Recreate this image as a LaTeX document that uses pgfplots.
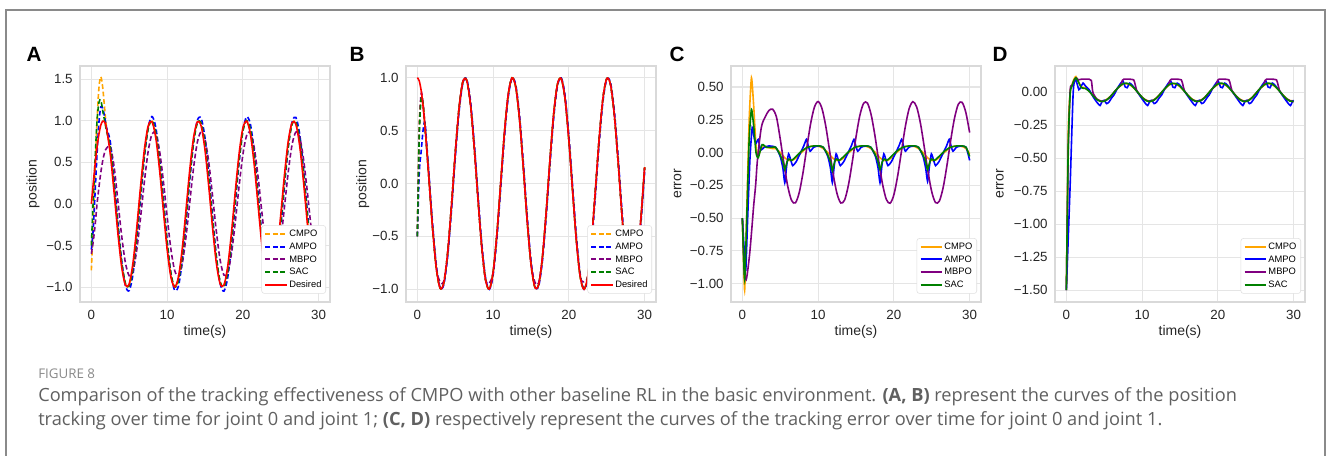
\documentclass[border=0pt]{standalone}
\usepackage{fontspec}
\setmainfont{Liberation Sans}
\newfontfamily\capfont{Open Sans}
\usepackage{pgfplots}
\usepackage{pgfplotstable}
\pgfplotsset{compat=1.18}
\definecolor{cOr}{HTML}{FFA500}
\definecolor{cBl}{HTML}{0000FF}
\definecolor{cPu}{HTML}{800080}
\definecolor{cGr}{HTML}{008000}
\definecolor{cRd}{HTML}{FF0000}
\definecolor{capgray}{HTML}{606060}
\definecolor{figgray}{HTML}{8A8A8A}

\pgfplotstableread{
t cmpo ampo mbpo sac des
0 -0.80 -0.55 -0.60 -0.50 0.000
0.25 -0.20 -0.30 -0.45 0.05 0.247
0.5 0.40 0.15 -0.25 0.55 0.479
0.75 1.00 0.60 0.00 1.00 0.682
1.0 1.40 0.98 0.20 1.22 0.841
1.25 1.53 1.17 0.38 1.25 0.949
1.5 1.40 1.15 0.52 1.12 0.997
1.75 1.15 1.05 0.62 1.00 0.984
2.0 0.92 0.92 0.67 0.88 0.909
2.5 0.638 0.747 0.690 0.678 0.598
3.0 0.191 0.301 0.449 0.240 0.141
3.5 -0.304 -0.219 0.036 -0.257 -0.351
4.0 -0.724 -0.685 -0.384 -0.692 -0.757
4.5 -0.967 -0.984 -0.711 -0.957 -0.978
5.0 -0.973 -1.042 -0.864 -0.987 -0.959
5.5 -0.741 -0.844 -0.806 -0.777 -0.706
6.0 -0.327 -0.440 -0.548 -0.375 -0.279
6.5 0.166 0.071 -0.159 0.117 0.215
7.0 0.619 0.566 0.270 0.582 0.657
7.5 0.921 0.921 0.633 0.903 0.938
8.0 0.996 1.051 0.841 1.004 0.989
8.5 0.828 0.924 0.843 0.858 0.798
9.0 0.458 0.571 0.639 0.503 0.412
9.5 -0.025 0.078 0.278 0.025 -0.075
10.0 -0.502 -0.435 -0.152 -0.460 -0.544
10.5 -0.856 -0.841 -0.544 -0.832 -0.880
11.0 -1.000 -1.041 -0.802 -1.000 -1.000
11.5 -0.899 -0.986 -0.865 -0.923 -0.875
12.0 -0.579 -0.690 -0.716 -0.621 -0.537
12.5 -0.116 -0.225 -0.391 -0.166 -0.066
13.0 0.375 0.295 0.029 0.329 0.420
13.5 0.773 0.742 0.441 0.743 0.803
14.0 0.984 1.009 0.748 0.977 0.991
14.5 0.953 1.028 0.869 0.971 0.935
15.0 0.688 0.795 0.779 0.726 0.650
15.5 0.256 0.368 0.498 0.305 0.207
16.0 -0.240 -0.150 0.094 -0.192 -0.288
16.5 -0.677 -0.631 -0.332 -0.642 -0.712
17.0 -0.947 -0.957 -0.677 -0.933 -0.961
17.5 -0.987 -1.049 -0.856 -0.998 -0.976
18.0 -0.784 -0.884 -0.826 -0.817 -0.751
18.5 -0.389 -0.502 -0.593 -0.436 -0.342
19.0 0.101 0.002 -0.215 0.051 0.150
19.5 0.564 0.503 0.214 0.524 0.604
20.0 0.893 0.886 0.593 0.872 0.913
20.5 1.000 1.048 0.825 1.004 0.996
21.0 0.864 0.956 0.856 0.892 0.837
21.5 0.515 0.627 0.676 0.559 0.471
22.0 0.041 0.147 0.332 0.091 -0.009
22.5 -0.443 -0.370 -0.094 -0.400 -0.487
23.0 -0.819 -0.797 -0.497 -0.793 -0.846
23.5 -0.995 -1.029 -0.778 -0.992 -0.998
24.0 -0.927 -1.009 -0.870 -0.948 -0.906
24.5 -0.632 -0.742 -0.747 -0.673 -0.592
25.0 -0.182 -0.292 -0.442 -0.231 -0.132
25.5 0.312 0.228 -0.028 0.266 0.359
26.0 0.731 0.693 0.392 0.698 0.763
26.5 0.970 0.988 0.716 0.960 0.980
27.0 0.971 1.040 0.865 0.985 0.956
27.5 0.735 0.838 0.802 0.771 0.699
28.0 0.319 0.432 0.543 0.367 0.271
28.5 -0.174 -0.080 0.152 -0.125 -0.223
29.0 -0.627 -0.574 -0.278 -0.589 -0.664
29.5 -0.924 -0.926 -0.639 -0.907 -0.941
30.0 -0.996 -1.051 -0.843 -1.003 -0.988
}\tabA

\pgfplotstableread{
t cmpo ampo mbpo sac des
0 -0.50 -0.50 -0.50 -0.50 1.000
0.25 0.55 0.10 0.50 0.45 0.969
0.5 0.80 0.30 0.85 0.80 0.878
0.75 0.75 0.50 0.76 0.75 0.732
1.0 0.545 0.58 0.55 0.54 0.540
1.25 0.32 0.36 0.32 0.315 0.315
1.5 0.08 0.12 0.08 0.071 0.071
1.75 -0.17 -0.13 -0.17 -0.178 -0.178
2.0 -0.41 -0.37 -0.41 -0.416 -0.416
2.5 -0.801 -0.771 -0.800 -0.801 -0.801
3.0 -0.990 -0.983 -0.930 -0.990 -0.990
3.5 -0.936 -0.954 -0.920 -0.936 -0.936
4.0 -0.654 -0.692 -0.654 -0.654 -0.654
4.5 -0.211 -0.260 -0.211 -0.211 -0.211
5.0 0.284 0.236 0.284 0.284 0.284
5.5 0.709 0.674 0.709 0.709 0.709
6.0 0.960 0.946 0.960 0.960 0.960
6.5 0.977 0.988 0.977 0.977 0.977
7.0 0.754 0.787 0.754 0.754 0.754
7.5 0.347 0.394 0.347 0.347 0.347
8.0 -0.146 -0.097 -0.146 -0.146 -0.146
8.5 -0.602 -0.562 -0.602 -0.602 -0.602
9.0 -0.911 -0.890 -0.911 -0.911 -0.911
9.5 -0.997 -1.001 -0.940 -0.997 -0.997
10.0 -0.839 -0.866 -0.839 -0.839 -0.839
10.5 -0.476 -0.520 -0.476 -0.476 -0.476
11.0 0.004 -0.046 0.004 0.004 0.004
11.5 0.484 0.440 0.484 0.484 0.484
12.0 0.844 0.817 0.844 0.844 0.844
12.5 0.998 0.995 0.998 0.998 0.998
13.0 0.907 0.928 0.907 0.907 0.907
13.5 0.595 0.635 0.595 0.595 0.595
14.0 0.137 0.187 0.137 0.137 0.137
14.5 -0.355 -0.308 -0.355 -0.355 -0.355
15.0 -0.760 -0.727 -0.760 -0.760 -0.760
15.5 -0.978 -0.968 -0.930 -0.978 -0.978
16.0 -0.958 -0.972 -0.940 -0.958 -0.958
16.5 -0.703 -0.739 -0.703 -0.703 -0.703
17.0 -0.275 -0.323 -0.275 -0.275 -0.275
17.5 0.219 0.170 0.219 0.219 0.219
18.0 0.660 0.622 0.660 0.660 0.660
18.5 0.940 0.923 0.940 0.940 0.940
19.0 0.989 0.997 0.989 0.989 0.989
19.5 0.797 0.827 0.797 0.797 0.797
20.0 0.408 0.454 0.408 0.408 0.408
20.5 -0.079 -0.029 -0.079 -0.079 -0.079
21.0 -0.548 -0.506 -0.548 -0.548 -0.548
21.5 -0.882 -0.858 -0.882 -0.882 -0.882
22.0 -1.000 -1.000 -0.930 -1.000 -1.000
22.5 -0.874 -0.898 -0.874 -0.874 -0.874
23.0 -0.533 -0.575 -0.533 -0.533 -0.533
23.5 -0.062 -0.112 -0.062 -0.062 -0.062
24.0 0.424 0.379 0.424 0.424 0.424
24.5 0.806 0.776 0.806 0.806 0.806
25.0 0.991 0.984 0.991 0.991 0.991
25.5 0.933 0.951 0.933 0.933 0.933
26.0 0.647 0.685 0.647 0.647 0.647
26.5 0.203 0.252 0.203 0.203 0.203
27.0 -0.292 -0.244 -0.292 -0.292 -0.292
27.5 -0.715 -0.680 -0.715 -0.715 -0.715
28.0 -0.962 -0.948 -0.962 -0.962 -0.962
28.5 -0.975 -0.986 -0.930 -0.975 -0.975
29.0 -0.748 -0.781 -0.748 -0.748 -0.748
29.5 -0.338 -0.385 -0.338 -0.338 -0.338
30.0 0.154 0.105 0.154 0.154 0.154
}\tabB

\pgfplotstableread{
t cmpo sac
0 -1.50 -1.50
0.25 -0.30 -0.40
0.5 0.00 -0.01
0.75 0.06 0.05
1.0 0.10 0.09
1.25 0.12 0.11
1.5 0.09 0.09
2.0 0.04 0.035
2.5 0.035 0.03
3.0 0.010 0.008
3.5 -0.023 -0.025
4.0 -0.050 -0.053
4.5 -0.064 -0.068
5.0 -0.063 -0.067
5.5 -0.046 -0.049
6.0 -0.019 -0.020
6.5 0.014 0.015
7.0 0.043 0.046
7.5 0.062 0.066
8.0 0.065 0.069
8.5 0.053 0.056
9.0 0.027 0.029
9.5 -0.005 -0.005
10.0 -0.036 -0.038
10.5 -0.058 -0.062
11.0 -0.066 -0.070
11.5 -0.057 -0.061
12.0 -0.036 -0.038
12.5 -0.005 -0.005
13.0 0.027 0.029
13.5 0.053 0.056
14.0 0.065 0.069
14.5 0.061 0.065
15.0 0.043 0.046
15.5 0.013 0.014
16.0 -0.019 -0.020
16.5 -0.047 -0.050
17.0 -0.063 -0.067
17.5 -0.064 -0.068
18.0 -0.050 -0.053
18.5 -0.023 -0.024
19.0 0.010 0.011
19.5 0.039 0.042
20.0 0.060 0.064
20.5 0.066 0.070
21.0 0.055 0.059
21.5 0.031 0.033
22.0 -0.001 -0.001
22.5 -0.032 -0.034
23.0 -0.055 -0.059
23.5 -0.066 -0.070
24.0 -0.059 -0.063
24.5 -0.039 -0.041
25.0 -0.008 -0.009
25.5 0.024 0.025
26.0 0.050 0.053
26.5 0.065 0.069
27.0 0.063 0.067
27.5 0.046 0.049
28.0 0.018 0.019
28.5 -0.015 -0.016
29.0 -0.043 -0.046
29.5 -0.062 -0.066
30.0 -0.065 -0.069
}\tabD

\pgfplotsset{
  legend image code/.code={\draw[#1, line width=1.5pt] (0pt,0pt) -- (16pt,0pt);},
  panel/.style={
    scale only axis, width=187.5pt, height=177pt,
    xmin=-1.5, xmax=31.5,
    xtick={0,10,20,30}, xticklabels={0,10,20,30},
    grid=major, grid style={color=gray!20, line width=0.8pt},
    axis line style={draw=gray!30, line width=0.8pt},
    major tick length=0pt,
    tick label style={font=\fontsize{10}{12}\selectfont, text=black!85},
    xticklabel style={yshift=-2.5pt},
    yticklabel style={xshift=-2pt},
    label style={font=\fontsize{10.5}{12}\selectfont, text=black!85},
    xlabel={time(s)},
    xlabel style={at={(axis description cs:0.5,-0.127)}, anchor=center},
    legend style={at={(axis description cs:0.984,0.035)}, anchor=south east,
      font=\fontsize{7}{8}\selectfont, draw=gray!25, rounded corners=2pt,
      fill=white, inner xsep=2pt, inner ysep=1.5pt, row sep=0.5pt,
      nodes={inner sep=1.2pt, text height=5.3pt, text depth=1.5pt}},
    legend cell align=left,
    every axis plot/.append style={line width=1.2pt},
  },
  dsh/.style={dash pattern=on 3.6pt off 2pt},
}

\begin{document}
\begin{tikzpicture}
\useasboundingbox (0,0) rectangle (996pt,342pt);
\fill[white] (0,0) rectangle (996pt,342pt);
\draw[color=figgray, line width=1.1pt] (4.5pt,0pt) -- (4.5pt,334.5pt) -- (993.75pt,334.5pt) -- (993.75pt,0pt);

% ---------- A ----------
\begin{axis}[panel, at={(60pt,115.5pt)}, anchor=south west,
  ymin=-1.18, ymax=1.66,
  ytick={-1,-0.5,0,0.5,1,1.5}, yticklabels={−1.0,−0.5,0.0,0.5,1.0,1.5},
  ylabel={position}, ylabel style={at={(axis description cs:-0.188,0.5)}, anchor=center}]
\addplot[color=cOr, dsh, smooth] table[x=t,y=cmpo]{\tabA};
\addplot[color=cBl, dsh, smooth] table[x=t,y=ampo]{\tabA};
\addplot[color=cPu, dsh, smooth] table[x=t,y=mbpo]{\tabA};
\addplot[color=cGr, dsh, smooth] table[x=t,y=sac]{\tabA};
\addplot[color=cRd, smooth] table[x=t,y=des]{\tabA};
\legend{CMPO,AMPO,MBPO,SAC,Desired}
\end{axis}

% ---------- B ----------
\begin{axis}[panel, at={(304.5pt,115.5pt)}, anchor=south west,
  ymin=-1.12, ymax=1.11,
  ytick={-1,-0.5,0,0.5,1}, yticklabels={−1.0,−0.5,0.0,0.5,1.0},
  ylabel={position}, ylabel style={at={(axis description cs:-0.173,0.5)}, anchor=center}]
\addplot[color=cOr, dsh, smooth] table[x=t,y=cmpo]{\tabB};
\addplot[color=cBl, dsh, smooth] table[x=t,y=ampo]{\tabB};
\addplot[color=cPu, dsh, smooth] table[x=t,y=mbpo]{\tabB};
\addplot[color=cGr, dsh, smooth] table[x=t,y=sac]{\tabB};
\addplot[color=cRd, smooth] table[x=t,y=des]{\tabB};
\legend{CMPO,AMPO,MBPO,SAC,Desired}
\end{axis}

% ---------- C ----------
\begin{axis}[panel, at={(548.25pt,115.5pt)}, anchor=south west,
  ymin=-1.14, ymax=0.66,
  ytick={-1,-0.75,-0.5,-0.25,0,0.25,0.5}, yticklabels={−1.00,−0.75,−0.50,−0.25,0.00,0.25,0.50},
  ylabel={error}, ylabel style={at={(axis description cs:-0.213,0.5)}, anchor=center}]
\addplot[color=cOr, smooth, tension=0.35] coordinates {
(0,-0.5)(0.3,-1.05)(0.6,-0.4)(0.9,0.25)(1.2,0.57)(1.5,0.35)(1.8,0.05)(2.1,-0.02)(2.6,0.04)(3.2,0.04)(4.0,0.03)(4.4,0.03)
(5.00,0.0)(5.60,-0.04)(6.10,-0.06)(6.60,-0.06)(7.10,-0.04)(7.80,0.0)(8.60,0.04)(9.40,0.05)(10.20,0.045)(10.68,0.03)
(11.28,0.0)(11.88,-0.04)(12.38,-0.06)(12.88,-0.06)(13.38,-0.04)(14.08,0.0)(14.88,0.04)(15.68,0.05)(16.48,0.045)(16.96,0.03)
(17.57,0.0)(18.17,-0.04)(18.67,-0.06)(19.17,-0.06)(19.67,-0.04)(20.37,0.0)(21.17,0.04)(21.97,0.05)(22.77,0.045)(23.25,0.03)
(23.85,0.0)(24.45,-0.04)(24.95,-0.06)(25.45,-0.06)(25.95,-0.04)(26.65,0.0)(27.45,0.04)(28.25,0.05)(29.05,0.045)(29.53,0.03)(30.0,-0.01)};
\addplot[color=cBl, smooth, tension=0.35] coordinates {
(0,-0.5)(0.3,-0.8)(0.45,-0.9)(0.7,-0.5)(1.0,-0.05)(1.3,0.19)(1.6,0.1)(1.8,0.07)(2.1,0.1)(2.4,0.02)(2.9,0.04)(3.5,0.05)(4.4,0.04)
(5.00,-0.03)(5.35,-0.12)(5.60,-0.23)(5.85,-0.10)(6.10,-0.01)(6.40,-0.06)(6.65,-0.10)(7.10,-0.07)(7.60,-0.01)(8.10,0.05)(8.45,0.10)(8.70,0.05)(8.95,0.01)(9.40,0.04)(10.00,0.05)(10.68,0.04)
(11.28,-0.03)(11.63,-0.12)(11.88,-0.23)(12.13,-0.10)(12.38,-0.01)(12.68,-0.06)(12.93,-0.10)(13.38,-0.07)(13.88,-0.01)(14.38,0.05)(14.73,0.10)(14.98,0.05)(15.23,0.01)(15.68,0.04)(16.28,0.05)(16.96,0.04)
(17.57,-0.03)(17.92,-0.12)(18.17,-0.23)(18.42,-0.10)(18.67,-0.01)(18.97,-0.06)(19.22,-0.10)(19.67,-0.07)(20.17,-0.01)(20.67,0.05)(21.02,0.10)(21.27,0.05)(21.52,0.01)(21.97,0.04)(22.57,0.05)(23.25,0.04)
(23.85,-0.03)(24.20,-0.12)(24.45,-0.22)(24.70,-0.10)(24.95,-0.01)(25.25,-0.06)(25.50,-0.10)(25.95,-0.07)(26.45,-0.01)(26.95,0.05)(27.30,0.10)(27.55,0.05)(27.80,0.01)(28.25,0.04)(28.85,0.05)(29.53,0.04)(30.0,-0.06)};
\addplot[color=cPu, smooth] coordinates {
(0,-0.5)(0.25,-0.90)(0.5,-0.97)(0.75,-0.88)(1.0,-0.75)(1.25,-0.58)(1.5,-0.40)(1.75,-0.25)(2.0,-0.05)(2.5,0.19)(3.0,0.27)(3.5,0.32)(4.0,0.33)(4.5,0.27)
(5.0,0.103)(5.5,-0.089)(6.0,-0.260)(6.5,-0.366)(7.0,-0.384)(7.5,-0.307)(8.0,-0.155)(8.5,0.035)(9.0,0.217)(9.5,0.344)
(10.0,0.389)(10.5,0.337)(11.0,0.204)(11.5,0.019)(12.0,-0.169)(12.5,-0.315)(13.0,-0.385)(13.5,-0.361)(14.0,-0.248)(14.5,-0.075)
(15.0,0.118)(15.5,0.281)(16.0,0.375)(16.5,0.378)(17.0,0.288)(17.5,0.128)(18.0,-0.064)(18.5,-0.240)(19.0,-0.357)(19.5,-0.387)
(20.0,-0.322)(20.5,-0.178)(21.0,0.009)(21.5,0.194)(22.0,0.332)(22.5,0.388)(23.0,0.349)(23.5,0.225)(24.0,0.046)(24.5,-0.145)
(25.0,-0.300)(25.5,-0.382)(26.0,-0.370)(26.5,-0.268)(27.0,-0.100)(27.5,0.093)(28.0,0.261)(28.5,0.368)(29.0,0.383)(29.5,0.305)(30.0,0.152)};
\addplot[color=cGr, smooth, tension=0.35] coordinates {
(0,-0.5)(0.3,-0.97)(0.6,-0.45)(0.9,0.1)(1.2,0.33)(1.5,0.2)(1.8,0.0)(2.1,-0.04)(2.6,0.06)(3.2,0.04)(4.0,0.04)(4.4,0.04)
(5.00,-0.02)(5.35,-0.07)(5.60,-0.13)(5.90,-0.07)(6.15,-0.05)(6.50,-0.06)(7.10,-0.03)(7.80,0.01)(8.60,0.04)(9.40,0.05)(10.20,0.05)(10.68,0.04)
(11.28,-0.02)(11.63,-0.07)(11.88,-0.14)(12.18,-0.07)(12.43,-0.05)(12.78,-0.06)(13.38,-0.03)(14.08,0.01)(14.88,0.04)(15.68,0.05)(16.48,0.05)(16.96,0.04)
(17.57,-0.02)(17.92,-0.07)(18.17,-0.13)(18.47,-0.07)(18.72,-0.05)(19.07,-0.06)(19.67,-0.03)(20.37,0.01)(21.17,0.04)(21.97,0.05)(22.77,0.05)(23.25,0.04)
(23.85,-0.02)(24.20,-0.07)(24.45,-0.13)(24.75,-0.07)(25.00,-0.05)(25.35,-0.06)(25.95,-0.03)(26.65,0.01)(27.45,0.04)(28.25,0.05)(29.05,0.05)(29.53,0.04)(30.0,-0.03)};
\legend{CMPO,AMPO,MBPO,SAC}
\end{axis}

% ---------- D ----------
\begin{axis}[panel, at={(791.25pt,115.5pt)}, anchor=south west,
  ymin=-1.59, ymax=0.20,
  ytick={-1.5,-1.25,-1,-0.75,-0.5,-0.25,0}, yticklabels={−1.50,−1.25,−1.00,−0.75,−0.50,−0.25,0.00},
  ylabel={error}, ylabel style={at={(axis description cs:-0.22,0.5)}, anchor=center}]
\addplot[color=cOr, smooth, tension=0.4] table[x=t,y=cmpo]{\tabD};
\addplot[color=cBl, smooth, tension=0.35] coordinates {
(0,-1.5)(0.5,-0.7)(0.9,0.0)(1.2,0.10)(1.65,0.02)(1.9,0.04)(2.2,0.07)(2.5,0.05)(3.0,0.02)(3.6,-0.04)(4.1,-0.08)(4.45,-0.10)(4.75,-0.065)(5.0,-0.06)(5.3,-0.085)(5.6,-0.075)(6.0,-0.04)
(6.28,-0.02)(6.78,0.035)(7.18,0.07)(7.48,0.085)(7.78,0.04)(8.03,0.035)(8.33,0.07)(8.68,0.055)(9.28,0.01)(9.88,-0.04)(10.38,-0.08)(10.73,-0.10)(11.03,-0.065)(11.28,-0.06)(11.58,-0.085)(11.88,-0.075)(12.28,-0.04)
(12.57,-0.02)(13.07,0.035)(13.47,0.07)(13.77,0.085)(14.07,0.04)(14.32,0.035)(14.62,0.07)(14.97,0.055)(15.57,0.01)(16.17,-0.04)(16.67,-0.08)(17.02,-0.10)(17.32,-0.065)(17.57,-0.06)(17.87,-0.085)(18.17,-0.075)(18.57,-0.04)
(18.85,-0.02)(19.35,0.035)(19.75,0.07)(20.05,0.085)(20.35,0.04)(20.60,0.035)(20.90,0.07)(21.25,0.055)(21.85,0.01)(22.45,-0.04)(22.95,-0.08)(23.30,-0.10)(23.60,-0.065)(23.85,-0.06)(24.15,-0.085)(24.45,-0.075)(24.85,-0.04)
(25.13,-0.02)(25.63,0.035)(26.03,0.07)(26.33,0.085)(26.63,0.04)(26.88,0.035)(27.18,0.07)(27.53,0.055)(28.13,0.01)(28.73,-0.04)(29.23,-0.08)(29.58,-0.10)(29.88,-0.065)(30.0,-0.06)};
\addplot[color=cPu, smooth, tension=0.35] coordinates {
(0,-1.5)(0.25,-0.45)(0.5,0.02)(0.75,0.05)(1.0,0.09)(1.3,0.11)(1.6,0.095)(2.0,0.10)(3.0,0.10)(3.3,0.09)(3.5,0.0)(4.0,-0.05)(4.7,-0.07)(5.3,-0.058)(5.8,-0.033)
(6.28,0.0)(6.78,0.033)(7.18,0.055)(7.38,0.09)(7.58,0.10)(8.28,0.10)(8.88,0.095)(9.08,0.06)(9.28,0.015)(9.78,-0.025)(10.28,-0.053)(10.98,-0.07)(11.58,-0.058)(12.08,-0.033)
(12.57,0.0)(13.07,0.033)(13.47,0.055)(13.67,0.09)(13.87,0.10)(14.57,0.10)(15.17,0.095)(15.37,0.06)(15.57,0.015)(16.07,-0.025)(16.57,-0.053)(17.27,-0.07)(17.87,-0.058)(18.37,-0.033)
(18.85,0.0)(19.35,0.033)(19.75,0.055)(19.95,0.09)(20.15,0.10)(20.85,0.10)(21.45,0.095)(21.65,0.06)(21.85,0.015)(22.35,-0.025)(22.85,-0.053)(23.55,-0.07)(24.15,-0.058)(24.65,-0.033)
(25.13,0.0)(25.63,0.033)(26.03,0.055)(26.23,0.09)(26.43,0.10)(27.13,0.10)(27.73,0.095)(27.93,0.06)(28.13,0.015)(28.63,-0.025)(29.13,-0.053)(29.83,-0.07)(30.0,-0.07)};
\addplot[color=cGr, smooth, tension=0.4] table[x=t,y=sac]{\tabD};
\legend{CMPO,AMPO,MBPO,SAC}
\end{axis}

% panel letters
\node[font=\bfseries\fontsize{15.5}{17}\selectfont] at (25.5pt,301pt) {A};
\node[font=\bfseries\fontsize{15.5}{17}\selectfont] at (267.75pt,301pt) {B};
\node[font=\bfseries\fontsize{15.5}{17}\selectfont] at (507.75pt,301pt) {C};
\node[font=\bfseries\fontsize{15.5}{17}\selectfont] at (750pt,301pt) {D};

% caption
\node[anchor=base west, inner sep=0pt, text=figgray, font=\capfont\fontsize{10}{12}\selectfont] at (28.5pt,57.75pt) {FIGURE 8};
\node[anchor=base west, inner sep=0pt, text=capgray] at (28.5pt,40.5pt) {\resizebox{899pt}{!}{\capfont Comparison of the tracking effectiveness of CMPO with other baseline RL in the basic environment. \textbf{(A, B)} represent the curves of the position}};
\node[anchor=base west, inner sep=0pt, text=capgray] at (28.5pt,22.5pt) {\resizebox{843pt}{!}{\capfont tracking over time for joint 0 and joint 1; \textbf{(C, D)} respectively represent the curves of the tracking error over time for joint 0 and joint 1.}};
\end{tikzpicture}
\end{document}
